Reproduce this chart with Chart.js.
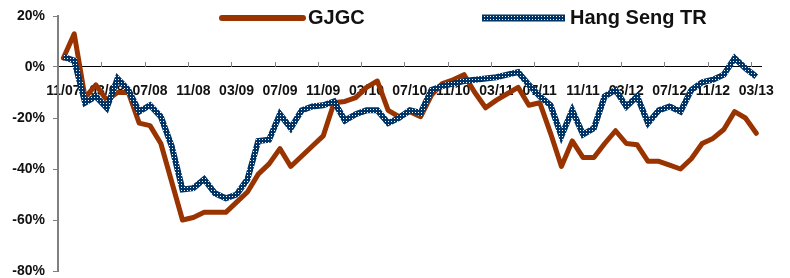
<!DOCTYPE html>
<html>
<head>
<meta charset="utf-8">
<script src="https://cdn.jsdelivr.net/npm/chart.js@4.4.1/dist/chart.umd.min.js"></script>
<style>
  html, body { margin: 0; padding: 0; background: #ffffff; }
  #contenedor { width: 790px; height: 278px; position: relative; }
</style>
</head>
<body>
<div id="contenedor"><canvas id="grafica"></canvas></div>
<script>
// Meses de la serie (mensual, 11/07 a 03/13)
const meses = [
  '11/07','12/07','01/08','02/08','03/08','04/08','05/08','06/08','07/08','08/08','09/08','10/08',
  '11/08','12/08','01/09','02/09','03/09','04/09','05/09','06/09','07/09','08/09','09/09','10/09',
  '11/09','12/09','01/10','02/10','03/10','04/10','05/10','06/10','07/10','08/10','09/10','10/10',
  '11/10','12/10','01/11','02/11','03/11','04/11','05/11','06/11','07/11','08/11','09/11','10/11',
  '11/11','12/11','01/12','02/12','03/12','04/12','05/12','06/12','07/12','08/12','09/12','10/12',
  '11/12','12/12','01/13','02/13','03/13'
];

// Rendimiento acumulado de GJGC (%)
const gjgc = [
  3.5, 13, -12, -7, -13, -10, -10, -22, -23, -30, -45, -60,
  -59, -57, -57, -57, -53, -49, -42, -38, -32, -39, -35, -31,
  -27, -14, -13.5, -12, -8, -5.5, -17, -19.5, -17.5, -19.5, -11, -6.5,
  -5, -3, -10, -16, -13, -10.5, -8, -15, -14, -26, -39, -29,
  -35.5, -35.5, -30, -25, -30, -30.5, -37, -37, -38.5, -40, -36, -30,
  -28, -24.5, -17.5, -20, -26
];

// Rendimiento acumulado del Hang Seng Total Return (%)
const hangSengTR = [
  4, 2.5, -14, -11.5, -16, -4.5, -9, -17.5, -15, -19.5, -31, -48,
  -47.5, -44, -49.5, -51.5, -50, -44, -29, -28.5, -18.5, -24, -17, -15.5,
  -15, -13.5, -21, -18.5, -17, -17, -22, -20, -17, -18, -9, -7.5,
  -6.5, -5.5, -5, -4.5, -4, -3, -2, -7, -11.5, -15, -27, -17,
  -26.5, -24, -11.5, -9, -15.5, -11.5, -22, -17, -15.5, -17.5, -9, -6,
  -5, -3, 3.5, -0.5, -3.8
];

// Etiquetas del eje Y
const ticksY = [-80, -60, -40, -20, 0, 20];

const nombres = ['GJGC', 'Hang Seng TR'];
const colorRojo = '#993300';
const colorAzul = '#003366';
const fuente = '"Liberation Sans", Arial, sans-serif';

// Patrón punteado (azul con puntos blancos) para la línea del Hang Seng
function crearPatron() {
  const c = document.createElement('canvas');
  c.width = 3; c.height = 3;
  const g = c.getContext('2d');
  g.fillStyle = colorAzul;
  g.fillRect(0, 0, 3, 3);
  g.fillStyle = '#ffffff';
  g.fillRect(1, 1, 1, 1);
  return g.createPattern(c, 'repeat');
}
const patronAzul = crearPatron();

// Marcas pequeñas hacia arriba sobre el eje X, cada 4 meses
const marcasEjeX = {
  id: 'marcasEjeX',
  beforeDatasetsDraw(chart) {
    const x = chart.scales.x, y = chart.scales.y;
    const ctx = chart.ctx;
    const y0 = y.getPixelForValue(0);
    const paso = x.getPixelForValue(1) - x.getPixelForValue(0);
    ctx.save();
    ctx.strokeStyle = '#808080';
    ctx.lineWidth = 1;
    for (let i = 4; i < meses.length; i += 4) {
      const px = Math.round(x.getPixelForValue(i) - paso / 2) + 0.5;
      ctx.beginPath();
      ctx.moveTo(px, y0);
      ctx.lineTo(px, y0 - 5);
      ctx.stroke();
    }
    ctx.restore();
  }
};

// Leyenda dibujada a mano dentro del área de la gráfica
const leyenda = {
  id: 'leyenda',
  afterDraw(chart) {
    const ctx = chart.ctx;
    const items = [
      { texto: nombres[0], color: colorRojo, x1: 222, x2: 303, ancho: 6 },
      { texto: nombres[1], color: patronAzul, x1: 482, x2: 565, ancho: 7 }
    ];
    ctx.save();
    items.forEach(it => {
      ctx.strokeStyle = it.color;
      ctx.lineWidth = it.ancho;
      ctx.lineCap = it.texto === 'GJGC' ? 'round' : 'butt';
      ctx.beginPath();
      ctx.moveTo(it.x1, 18);
      ctx.lineTo(it.x2, 18);
      ctx.stroke();
      ctx.fillStyle = '#111111';
      ctx.font = 'bold 20px ' + fuente;
      ctx.textBaseline = 'middle';
      ctx.fillText(it.texto, it.x2 + 5, 18);
    });
    ctx.restore();
  }
};

new Chart(document.getElementById('grafica'), {
  type: 'line',
  data: {
    labels: meses,
    datasets: [
      {
        label: nombres[0],
        data: gjgc,
        borderColor: colorRojo,
        borderWidth: 5,
        pointRadius: 0,
        tension: 0,
        borderJoinStyle: 'round',
        borderCapStyle: 'round',
        order: 2
      },
      {
        label: nombres[1],
        data: hangSengTR,
        borderColor: patronAzul,
        borderWidth: 6,
        pointRadius: 0,
        tension: 0,
        borderJoinStyle: 'miter',
        order: 1
      }
    ]
  },
  options: {
    responsive: true,
    maintainAspectRatio: false,
    animation: false,
    layout: { padding: { top: 16, right: 27, bottom: 7, left: 0 } },
    plugins: {
      legend: { display: false },
      tooltip: { enabled: false }
    },
    scales: {
      x: {
        type: 'category',
        offset: true,
        position: { y: 0 },
        grid: { display: false, drawTicks: false },
        border: { display: true, color: '#000000', width: 1 },
        ticks: {
          autoSkip: false,
          maxRotation: 0,
          padding: 16,
          color: '#111111',
          font: { family: fuente, size: 14, weight: 'bold' },
          callback: (v, i) => (i % 4 === 0 ? meses[i] : '')
        }
      },
      y: {
        min: ticksY[0],
        max: ticksY[ticksY.length - 1],
        // Ancho fijo del eje y sin relleno extra arriba/abajo
        afterFit: s => { s.width = 58; s.paddingTop = 0; s.paddingBottom = 0; },
        afterBuildTicks: s => { s.ticks = ticksY.map(v => ({ value: v })); },
        grid: { drawOnChartArea: false, drawTicks: true, tickLength: 5, color: '#808080' },
        border: { display: true, color: '#808080', width: 2 },
        ticks: {
          padding: 8,
          color: '#111111',
          font: { family: fuente, size: 14, weight: 'bold' },
          callback: v => v + '%'
        }
      }
    }
  },
  plugins: [marcasEjeX, leyenda]
});
</script>
</body>
</html>
